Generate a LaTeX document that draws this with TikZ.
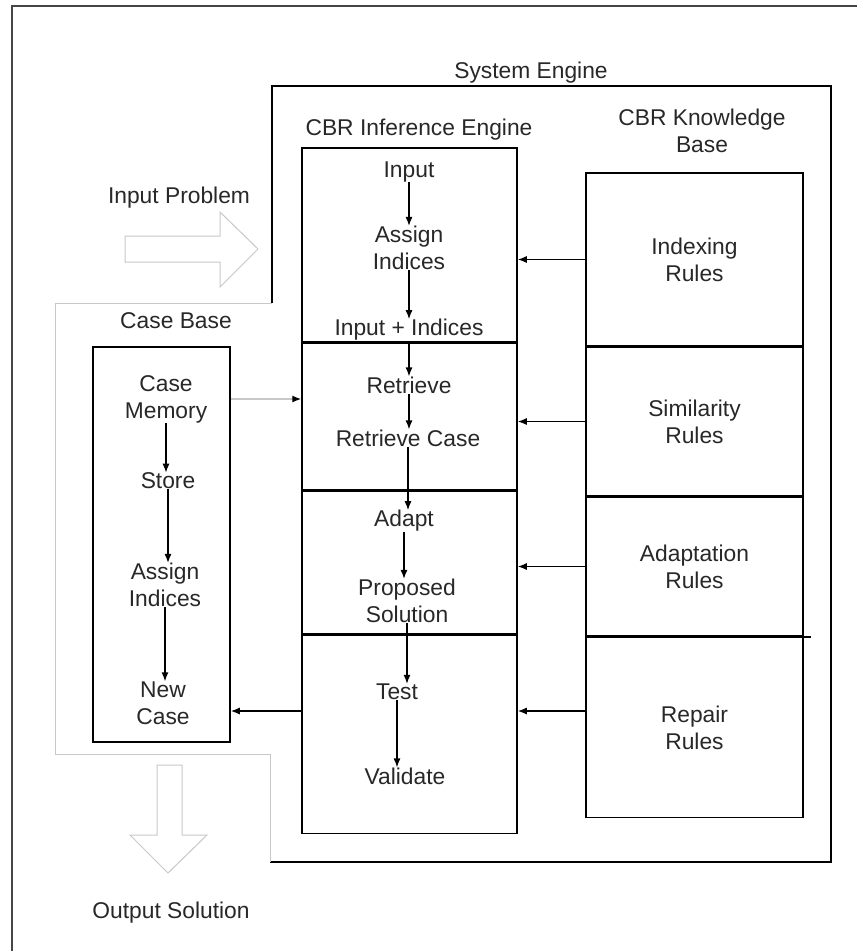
\documentclass[tikz,border=0pt]{standalone}
\usepackage{fontspec}
\setmainfont{Liberation Sans}
\usetikzlibrary{arrows.meta}
\usetikzlibrary{positioning}
\definecolor{inkgray}{RGB}{40,40,40}
\definecolor{framegray}{RGB}{70,70,70}
\definecolor{palegray}{RGB}{200,200,200}
\tikzset{
  txt/.style={font=\fontsize{22.8}{27}\selectfont, align=center, inner sep=0pt, text=inkgray},
  part/.style={draw=black, line width=1.5pt, inner sep=0pt},
  rulebox/.style={part, txt, minimum width=217},
  frame/.style={draw=framegray, line width=1.6pt},
  pale/.style={draw=palegray, line width=1pt},
  flow/.style={-{Latex[length=9pt,width=7pt]}, line width=1.3pt},
  paleflow/.style={flow, draw=palegray, -{Latex[length=9pt,width=7pt,color=black]}},
}
\newcommand\flw[2]{\draw[flow] (#1.south) -- (#1.south |- #2.north);}

\begin{document}
\begin{tikzpicture}[x=1pt,y=-1pt]
\fill[white] (0,0) rectangle (857,951);
\useasboundingbox (0,0) rectangle (857,951);

% outer frame, open on the right and bottom
\draw[frame] (12,951) -- (12,6) -- (857,6);

% system engine, case base corner in pale grey
\draw[frame,draw=black] (270,862) -- (831,862) -- (831,86) -- (272,86) -- (272,303);
\draw[pale] (272,303) -- (55,303) -- (55,754) -- (270,754) -- (270,862);
\node[txt] (sys) at (531,73) {System Engine};

% input / output block arrows
\draw[pale,fill=white] (125,236) -- (220,236) -- (220,212) -- (258,249) -- (220,287) -- (220,262) -- (125,262) -- cycle;
\node[txt] (inprob) at (179,198) {Input Problem};
\draw[pale,fill=white] (157,765) -- (182,765) -- (182,835) -- (207,835) -- (168,873) -- (130,835) -- (157,835) -- cycle;
\node[txt] (outsol) at (171,913) {Output Solution};

% CBR inference engine
\node[txt] (iet) at (419,130) {CBR Inference Engine};
\node[part, minimum width=215, minimum height=194] (ie1) at (409.5,245) {};
\node[part, minimum width=215, minimum height=146, below=0pt of ie1] (ie2) {};
\node[part, minimum width=215, minimum height=143, below=0pt of ie2] (ie3) {};
\node[part, minimum width=215, minimum height=198, below=0pt of ie3] (ie4) {};

\node[txt] (inp) at (409,172) {Input};
\node[txt] (asg) at (409,248) {Assign\\Indices};
\node[txt] (inpidx) at (409,330) {Input + Indices};
\node[txt] (ret) at (409,385) {Retrieve};
\node[txt] (retcase) at (408,438) {Retrieve Case};
\node[txt] (adp) at (404,521) {Adapt};
\node[txt] (prop) at (407,601) {Proposed\\Solution};
\node[txt] (tst) at (397,692) {Test};
\node[txt] (val) at (405,776) {Validate};

\flw{inp}{asg}
\flw{asg}{inpidx}
\flw{inpidx}{ret}
\flw{ret}{retcase}
\flw{retcase}{adp}
\flw{adp}{prop}
\flw{prop}{tst}
\flw{tst}{val}

% CBR knowledge base
\node[txt] (kbt) at (702,131) {CBR Knowledge\\Base};
\node[rulebox, minimum height=173] (kb1) at (694.5,259.5) {Indexing\\Rules};
\node[rulebox, minimum height=148, below=0pt of kb1] (kb2) {Similarity\\Rules};
\node[rulebox, minimum height=139, below=0pt of kb2] (kb3) {Adaptation\\Rules};
\node[rulebox, minimum height=180, below=0pt of kb3] (kb4) {Repair\\Rules};
\draw[part] (kb4.north east) -- ++(7,0);

% case base
\node[txt] (cbt) at (176,321) {Case Base};
\node[part, minimum width=137, minimum height=395] (cb) at (161.5,544.5) {};
\node[txt] (cmem) at (166,399) {Case\\Memory};
\node[txt] (sto) at (168,481) {Store};
\node[txt] (casg) at (165,585) {Assign\\Indices};
\node[txt] (newc) at (163,703) {New\\Case};

\flw{cmem}{sto}
\flw{sto}{casg}
\flw{casg}{newc}

% links between the boxes
\coordinate (back) at (0,711);
\draw[flow] (kb1.west) -- (kb1.west -| ie1.east);
\draw[flow] (kb2.west) -- (kb2.west -| ie2.east);
\draw[flow] (kb3.west) -- (kb3.west -| ie3.east);
\draw[flow] (kb4.west |- back) -- (ie4.east |- back);
\draw[flow] (ie4.west |- back) -- (cb.east |- back);
\draw[paleflow] (cb.east |- cmem) -- (ie2.west |- cmem);

\end{tikzpicture}
\end{document}
